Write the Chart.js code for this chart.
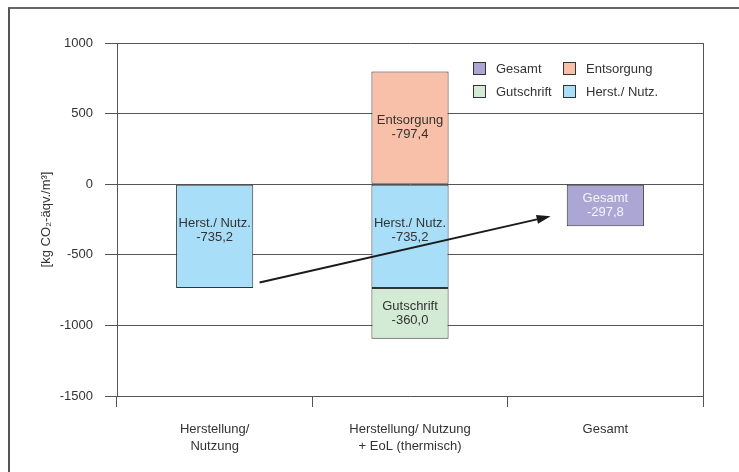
<!DOCTYPE html>
<html>
<head>
<meta charset="utf-8">
<script src="https://cdn.jsdelivr.net/npm/chart.js@4.4.1/dist/chart.umd.min.js"></script>
<style>
  body { margin: 0; background: #fff; }
  .wrap { position: relative; width: 739px; height: 472px; overflow: hidden; }
  .frame { position: absolute; left: 8px; top: 7px; width: 900px; height: 600px;
           border-left: 2px solid #555; border-top: 2px solid #666; }
  canvas { position: absolute; left: 0; top: 0; }
</style>
</head>
<body>
<div class="wrap">
  <div class="frame"></div>
  <canvas id="chart" width="739" height="472"></canvas>
</div>
<script>
const categories = [['Herstellung/', 'Nutzung'], ['Herstellung/ Nutzung', '+ EoL (thermisch)'], 'Gesamt'];
const herstNutz = [-735.2, -735.2, null];
const gutschrift = [null, -360.0, null];
const entsorgung = [null, 797.4, null];
const gesamt = [null, null, -297.8];
// texts printed inside the bars (as in the source figure)
const herstText = ['-735,2', '-735,2', null];
const gutschriftText = [null, '-360,0', null];
const entsorgungText = [null, '-797,4', null];
const gesamtText = [null, null, '-297,8'];
const yTicks = [1000, 500, 0, -500, -1000, -1500];
// arrow from first to last bar: [category index, value]
const arrowFrom = [0.23, -696];
const arrowTo = [1.72, -227];
const legendOrder = ['Gesamt', 'Entsorgung', 'Gutschrift', 'Herst./ Nutz.'];

const font = '"Liberation Sans", Arial, sans-serif';

const barLabels = {
  id: 'barLabels',
  afterDatasetsDraw(chart) {
    const ctx = chart.ctx;
    ctx.save();
    ctx.font = '13px ' + font;
    ctx.textAlign = 'center';
    ctx.textBaseline = 'middle';
    chart.data.datasets.forEach((ds, i) => {
      chart.getDatasetMeta(i).data.forEach((el, j) => {
        if (ds.data[j] == null) return;
        const cy = (el.y + el.base) / 2 - (ds.shift || 0);
        ctx.fillStyle = ds.textColor;
        ctx.fillText(ds.label, el.x, cy - 7);
        ctx.fillText(ds.texts[j], el.x, cy + 7);
      });
    });
    ctx.restore();
  }
};

const extras = {
  id: 'extras',
  afterDraw(chart) {
    const ctx = chart.ctx;
    const a = chart.chartArea;
    const x = chart.scales.x, y = chart.scales.y;
    ctx.save();
    // right border of the plot
    ctx.strokeStyle = '#555';
    ctx.lineWidth = 1;
    ctx.beginPath();
    ctx.moveTo(Math.round(a.right) + 0.5, a.top);
    ctx.lineTo(Math.round(a.right) + 0.5, a.bottom + 11);
    ctx.stroke();

    // arrow
    const x1 = x.getPixelForValue(arrowFrom[0]), y1 = y.getPixelForValue(arrowFrom[1]);
    const x2 = x.getPixelForValue(arrowTo[0]), y2 = y.getPixelForValue(arrowTo[1]);
    const ang = Math.atan2(y2 - y1, x2 - x1);
    const hl = 14, hw = 4.5;
    const bx = x2 - hl * Math.cos(ang), by = y2 - hl * Math.sin(ang);
    ctx.strokeStyle = '#1a1a1a';
    ctx.fillStyle = '#1a1a1a';
    ctx.lineWidth = 2;
    ctx.beginPath();
    ctx.moveTo(x1, y1);
    ctx.lineTo(bx, by);
    ctx.stroke();
    ctx.beginPath();
    ctx.moveTo(x2, y2);
    ctx.lineTo(bx + hw * Math.sin(ang), by - hw * Math.cos(ang));
    ctx.lineTo(bx - hw * Math.sin(ang), by + hw * Math.cos(ang));
    ctx.closePath();
    ctx.fill();

    // legend, 2 x 2
    ctx.font = '13px ' + font;
    ctx.textBaseline = 'middle';
    ctx.textAlign = 'left';
    ctx.lineWidth = 1;
    legendOrder.forEach((name, k) => {
      const ds = chart.data.datasets.find(d => d.label === name);
      const lx = a.right - 230 + (k % 2) * 90;
      const ly = a.top + 19 + Math.floor(k / 2) * 23;
      ctx.fillStyle = ds.backgroundColor;
      ctx.fillRect(lx, ly, 13, 13);
      ctx.strokeStyle = '#333';
      ctx.strokeRect(lx + 0.5, ly + 0.5, 12, 12);
      ctx.fillStyle = '#333';
      ctx.fillText(name, lx + 23, ly + 7);
    });
    ctx.restore();
  }
};

const barStyle = { borderColor: '#333', borderWidth: 1, borderSkipped: false,
                   categoryPercentage: 1, barPercentage: 0.395 };

new Chart(document.getElementById('chart').getContext('2d'), {
  type: 'bar',
  data: {
    labels: categories,
    datasets: [
      { label: 'Herst./ Nutz.', data: herstNutz, texts: herstText, backgroundColor: '#a9def9', textColor: '#333', shift: 6, ...barStyle },
      { label: 'Gutschrift', data: gutschrift, texts: gutschriftText, backgroundColor: '#d3ead4', textColor: '#333', ...barStyle },
      { label: 'Entsorgung', data: entsorgung, texts: entsorgungText, backgroundColor: '#f9c0a9', textColor: '#333', ...barStyle },
      { label: 'Gesamt', data: gesamt, texts: gesamtText, backgroundColor: '#aca6d5', textColor: '#f4f4fa', ...barStyle }
    ]
  },
  options: {
    responsive: false,
    animation: false,
    layout: { padding: { left: 39, top: 43, right: 36, bottom: 0 } },
    plugins: { legend: { display: false }, tooltip: { enabled: false } },
    scales: {
      x: {
        stacked: true,
        afterFit: s => { s.height = 76; },
        grid: { offset: true, drawOnChartArea: false, drawTicks: true, tickLength: 11, color: '#555' },
        border: { display: false },
        ticks: { color: '#333', font: { family: font, size: 13, lineHeight: 1.3 }, padding: 14, maxRotation: 0 }
      },
      y: {
        stacked: true,
        min: -1500, max: 1000,
        afterFit: s => { s.width = 78; },
        afterBuildTicks: s => { s.ticks = yTicks.map(v => ({ value: v })); },
        grid: { color: '#555', tickLength: 12 },
        border: { color: '#555' },
        ticks: { color: '#333', font: { family: font, size: 13 }, padding: 12, callback: v => String(v) },
        title: { display: true, text: '[kg CO₂-äqv./m³]', color: '#333', font: { family: font, size: 13 }, padding: 0 }
      }
    }
  },
  plugins: [barLabels, extras]
});
</script>
</body>
</html>
